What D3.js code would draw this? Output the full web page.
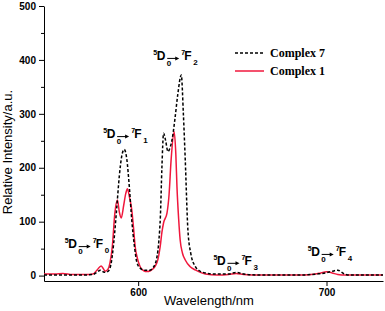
<!DOCTYPE html>
<html>
<head>
<meta charset="utf-8">
<script src="https://d3js.org/d3.v7.min.js"></script>
<style>
  body { margin: 0; background: #fff; }
  svg { display: block; }
</style>
</head>
<body>
<svg width="385" height="311"></svg>
<script>
// spectra: [wavelength nm, intensity]
var complex7 = [
  [550, 1], [560, 1], [570, 1], [576, 2], [578, 6], [580, 10], [582, 6], [584, 8],
  [585.5, 20], [587, 60], [588.5, 120], [590, 185], [591.3, 222], [592.6, 234],
  [594, 215], [595.3, 165], [596.6, 103], [598, 55], [599.3, 25], [601, 14],
  [603.7, 10], [606, 10], [608, 15], [610, 35], [611, 65], [611.8, 110],
  [612.6, 200], [613.5, 264], [614.6, 250], [615.8, 230], [617, 238], [618, 252],
  [619.5, 290], [621, 335], [622.9, 372], [624, 300], [625, 215], [626.4, 85],
  [628, 40], [630.3, 17], [632.5, 9], [635.6, 5], [640, 3], [648, 3], [652, 6],
  [656, 3], [665, 1], [685, 1], [695, 3], [699.5, 5], [703, 8], [706, 10],
  [709, 4], [712, 1], [730, 1]
];
var complex1 = [
  [550, 3], [556, 3], [560, 4], [565, 2], [572, 2], [576, 3], [578.3, 11],
  [580.3, 18], [581.5, 13], [582.5, 8], [584, 12], [585, 23], [586.3, 55],
  [587.6, 115], [589, 140], [590, 118], [591, 107], [592.3, 130], [593.4, 152],
  [594.3, 161], [595.4, 145], [596.6, 122], [597.5, 90], [598.4, 54], [599.6, 32],
  [601, 17], [603, 9], [604.6, 7.5], [606.5, 9], [609, 17], [610.5, 30], [611.7, 54],
  [612.6, 80], [613.5, 98], [615.3, 116], [616.4, 150], [617.5, 215], [619.1, 267],
  [620, 225], [620.6, 165], [621.5, 105], [622.3, 66], [623.5, 42], [625, 29],
  [627.5, 17], [630.3, 10.6], [633, 6], [635.6, 3], [642, 1], [648, 2], [652, 4],
  [656, 2], [665, 1], [688, 1], [694, 3], [697, 5], [700, 7], [703, 5], [706, 2],
  [710, 1], [730, 1]
];
var xTicks = [600, 700];
var yTicks = [0, 100, 200, 300, 400, 500];
var yMinor = [50, 150, 250, 350, 450];
// transitions: lower J, anchor wavelength, anchor intensity
var transJ = ["0", "1", "2", "3", "4"];
var transX = [561, 581.4, 608, 640, 690];
var transY = [51, 255, 400, 20, 36.5];
var seriesNames = ["Complex 7", "Complex 1"];

var svg = d3.select("svg");
var x = d3.scaleLinear().domain([550, 730]).range([44, 383]);
var y = d3.scaleLinear().domain([-10, 500]).range([281, 6]);

var sans = "'Liberation Sans', Arial, sans-serif";
var serif = "'Liberation Serif', 'Times New Roman', serif";

// axes
var yAxis = svg.append("g").attr("transform", "translate(44,0)")
  .call(d3.axisLeft(y).tickValues(yTicks).tickSize(5).tickSizeOuter(0).tickPadding(3));
yAxis.selectAll("text").style("font-family", sans).style("font-weight", "bold").style("font-size", "10px").attr("fill", "#000");
svg.append("g").attr("transform", "translate(44,0)")
  .call(d3.axisLeft(y).tickValues(yMinor).tickSize(3).tickFormat(""))
  .select(".domain").remove();

var xAxis = svg.append("g").attr("transform", "translate(0,281)")
  .call(d3.axisBottom(x).tickValues(xTicks).tickSize(5).tickSizeOuter(0).tickPadding(3));
xAxis.selectAll("text").style("font-family", sans).style("font-weight", "bold").style("font-size", "10px").attr("fill", "#000");
svg.selectAll(".domain, .tick line").attr("stroke", "#000").attr("stroke-width", 1);

svg.append("text").attr("x", 209).attr("y", 305).attr("text-anchor", "middle")
  .style("font-family", sans).style("font-size", "13px").text("Wavelength/nm");
svg.append("text").attr("transform", "translate(12,152) rotate(-90)").attr("text-anchor", "middle")
  .style("font-family", sans).style("font-size", "13px").text("Relative Intensity/a.u.");

// spectra
var line = d3.line().x(function (d) { return x(d[0]); }).y(function (d) { return y(d[1]); })
  .curve(d3.curveMonotoneX);
svg.append("path").datum(complex1).attr("d", line)
  .attr("fill", "none").attr("stroke", "#f0173c").attr("stroke-width", 1.5);
svg.append("path").datum(complex7).attr("d", line)
  .attr("fill", "none").attr("stroke", "#000").attr("stroke-width", 1.5).attr("stroke-dasharray", "3,2");

// legend
var leg = svg.append("g");
leg.append("line").attr("x1", 235).attr("x2", 264).attr("y1", 53).attr("y2", 53)
  .attr("stroke", "#000").attr("stroke-width", 1.5).attr("stroke-dasharray", "3,2");
leg.append("line").attr("x1", 235).attr("x2", 264).attr("y1", 71).attr("y2", 71)
  .attr("stroke", "#f0173c").attr("stroke-width", 1.5);
leg.selectAll("text").data(seriesNames).enter().append("text")
  .attr("x", 270).attr("y", function (d, i) { return 57 + i * 18; })
  .style("font-family", serif).style("font-weight", "bold").style("font-size", "12px")
  .text(function (d) { return d; });

// transition labels 5D0 -> 7FJ
transJ.forEach(function (j, i) {
  var x0 = x(transX[i]), b = y(transY[i]);
  var g = svg.append("g").style("font-family", sans).style("font-weight", "bold");
  var put = function (dx, dy, size, s) {
    g.append("text").attr("x", x0 + dx).attr("y", b + dy).style("font-size", size + "px").text(s);
  };
  put(0, -5, 7, "5");
  put(3.5, 0, 12, "D");
  put(13.5, 6, 8, "0");
  put(28, -5, 7, "7");
  put(31, 0, 12, "F");
  put(40, 5, 8, j);
  g.append("line").attr("x1", x0 + 14).attr("x2", x0 + 23).attr("y1", b - 1.5).attr("y2", b - 1.5)
    .attr("stroke", "#000").attr("stroke-width", 1);
  g.append("path").attr("d", "M" + (x0 + 26) + "," + (b - 1.5) + "l-4,-2l0,4z").attr("fill", "#000");
});
</script>
</body>
</html>
